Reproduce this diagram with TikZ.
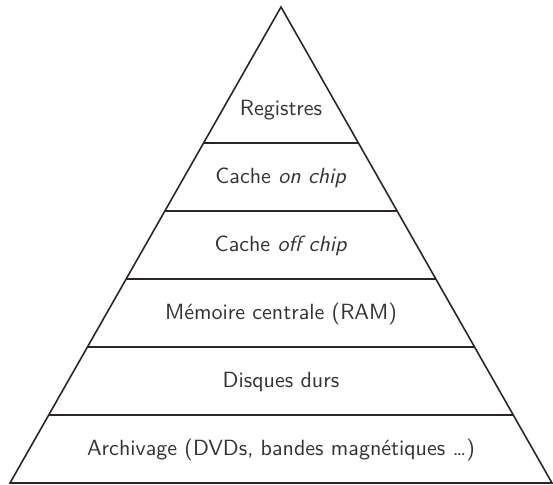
\documentclass[tikz,border=0pt]{standalone}
\usetikzlibrary{calc}
\definecolor{linec}{HTML}{2B2523}
\definecolor{textc}{HTML}{333333}
\begin{document}
\begin{tikzpicture}[x=0.4545pt,y=-0.4545pt,
  edge/.style={draw=linec,line width=0.72pt},
  lbl/.style={text=textc,font=\sffamily\fontsize{10}{12}\selectfont,inner sep=0pt}]
\useasboundingbox (0,0) rectangle (553,484);
\coordinate (A) at (281,7);
\coordinate (BL) at (10,483);
\coordinate (BR) at (552,483);
\draw[edge,line join=miter] (BL) -- (A) -- (BR) -- cycle;
\foreach \k in {2,...,6}{
  \coordinate (L\k) at ($(A)!\k/7!(BL)$);
  \coordinate (R\k) at ($(A)!\k/7!(BR)$);
  \draw[edge] (L\k) -- (R\k);
}
\node[lbl] (n1) at (281,110) {Registres};
\node[lbl] (n2) at (281,178) {Cache \textit{on chip}};
\node[lbl] (n3) at (281,246) {Cache \textit{off chip}};
\node[lbl] (n4) at (281,314) {Mémoire centrale (RAM)};
\node[lbl] (n5) at (281,382) {Disques durs};
\node[lbl] (n6) at (281,450) {Archivage (DVDs, bandes magnétiques …)};
\end{tikzpicture}
\end{document}
